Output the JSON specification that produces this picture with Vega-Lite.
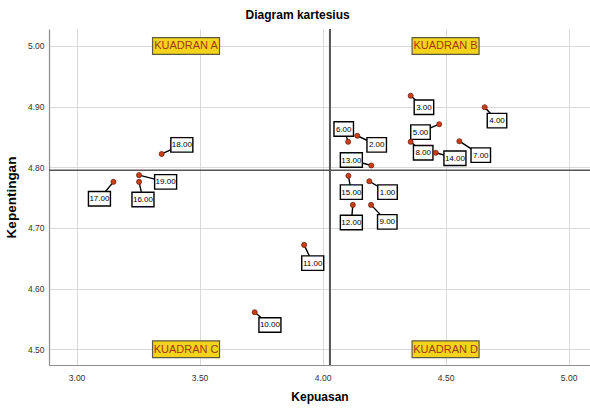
{
  "$schema": "https://vega.github.io/schema/vega-lite/v6.json",
  "width": 541,
  "height": 336,
  "autosize": {"type": "none"},
  "padding": {"left": 49, "top": 29, "right": 0, "bottom": 43},
  "background": "white",
  "title": {
    "text": "Diagram kartesius",
    "font": "Liberation Sans, Arial",
    "fontSize": 12,
    "fontWeight": "bold",
    "color": "#000000",
    "anchor": "middle",
    "frame": "bounds",
    "offset": 6
  },
  "config": {
    "view": {"stroke": null},
    "axis": {
      "labelFont": "Liberation Sans, Arial",
      "labelFontSize": 8.5,
      "labelColor": "#333333",
      "titleFont": "Liberation Sans, Arial",
      "titleFontSize": 12,
      "titleFontWeight": "bold",
      "titleColor": "#000000",
      "gridColor": "#d9d9d9",
      "gridWidth": 1,
      "domainColor": "#8c8c8c",
      "domainWidth": 1.2,
      "ticks": false
    }
  },
  "datasets": {
    "pts": [
      {"id": 1, "kepuasan": 4.190, "kepentingan": 4.777, "labelX": 4.264, "labelY": 4.759},
      {"id": 2, "kepuasan": 4.141, "kepentingan": 4.852, "labelX": 4.220, "labelY": 4.837},
      {"id": 3, "kepuasan": 4.358, "kepentingan": 4.918, "labelX": 4.412, "labelY": 4.899},
      {"id": 4, "kepuasan": 4.659, "kepentingan": 4.899, "labelX": 4.709, "labelY": 4.877},
      {"id": 5, "kepuasan": 4.474, "kepentingan": 4.871, "labelX": 4.398, "labelY": 4.858},
      {"id": 6, "kepuasan": 4.104, "kepentingan": 4.842, "labelX": 4.086, "labelY": 4.863},
      {"id": 7, "kepuasan": 4.556, "kepentingan": 4.843, "labelX": 4.643, "labelY": 4.820},
      {"id": 8, "kepuasan": 4.358, "kepentingan": 4.842, "labelX": 4.409, "labelY": 4.824},
      {"id": 9, "kepuasan": 4.197, "kepentingan": 4.738, "labelX": 4.263, "labelY": 4.710},
      {"id": 10, "kepuasan": 3.724, "kepentingan": 4.561, "labelX": 3.786, "labelY": 4.540},
      {"id": 11, "kepuasan": 3.925, "kepentingan": 4.672, "labelX": 3.960, "labelY": 4.642},
      {"id": 12, "kepuasan": 4.123, "kepentingan": 4.738, "labelX": 4.117, "labelY": 4.709},
      {"id": 13, "kepuasan": 4.198, "kepentingan": 4.803, "labelX": 4.117, "labelY": 4.812},
      {"id": 14, "kepuasan": 4.460, "kepentingan": 4.824, "labelX": 4.538, "labelY": 4.815},
      {"id": 15, "kepuasan": 4.105, "kepentingan": 4.786, "labelX": 4.117, "labelY": 4.759},
      {"id": 16, "kepuasan": 3.254, "kepentingan": 4.776, "labelX": 3.270, "labelY": 4.747},
      {"id": 17, "kepuasan": 3.150, "kepentingan": 4.776, "labelX": 3.093, "labelY": 4.748},
      {"id": 18, "kepuasan": 3.346, "kepentingan": 4.822, "labelX": 3.428, "labelY": 4.837},
      {"id": 19, "kepuasan": 3.254, "kepentingan": 4.787, "labelX": 3.362, "labelY": 4.776}
    ],
    "quads": [
      {"label": "KUADRAN A", "kepuasan": 3.445, "kepentingan": 5.0},
      {"label": "KUADRAN B", "kepuasan": 4.5, "kepentingan": 5.0},
      {"label": "KUADRAN C", "kepuasan": 3.445, "kepentingan": 4.5},
      {"label": "KUADRAN D", "kepuasan": 4.5, "kepentingan": 4.5}
    ],
    "means": [
      {"meanKepuasan": 4.03, "meanKepentingan": 4.795}
    ]
  },
  "encoding": {
    "x": {
      "field": "kepuasan",
      "type": "quantitative",
      "scale": {"domain": [2.888, 5.087], "nice": false, "zero": false},
      "axis": {"values": [3, 3.5, 4, 4.5, 5], "format": ".2f", "title": "Kepuasan", "labelPadding": 8, "titlePadding": 10}
    },
    "y": {
      "field": "kepentingan",
      "type": "quantitative",
      "scale": {"domain": [4.474, 5.028], "nice": false, "zero": false},
      "axis": {"values": [4.5, 4.6, 4.7, 4.8, 4.9, 5.0], "format": ".2f", "title": "Kepentingan", "titleFontSize": 13.5, "labelPadding": 5, "titlePadding": 9}
    }
  },
  "layer": [
    {
      "data": {"name": "means"},
      "mark": {"type": "rule", "color": "#555555", "strokeWidth": 2},
      "encoding": {"x": {"field": "meanKepuasan", "type": "quantitative"}, "y": null}
    },
    {
      "data": {"name": "means"},
      "mark": {"type": "rule", "color": "#555555", "strokeWidth": 1.6},
      "encoding": {"y": {"field": "meanKepentingan", "type": "quantitative"}, "x": null}
    },
    {
      "data": {"name": "quads"},
      "mark": {"type": "point", "filled": true, "fill": "#f3d31c", "stroke": "#5b5b40", "strokeWidth": 1.2, "opacity": 1, "size": 4, "shape": "M-33.5,-8.4H33.5V8.4H-33.5Z"}
    },
    {
      "data": {"name": "quads"},
      "mark": {"type": "text", "font": "Liberation Sans, Arial", "fontSize": 11, "color": "#a33a10", "align": "center", "baseline": "middle", "dy": 0.5},
      "encoding": {"text": {"field": "label"}}
    },
    {
      "data": {"name": "pts"},
      "mark": {"type": "rule", "color": "#000000", "strokeWidth": 1.4},
      "encoding": {
        "x2": {"field": "labelX"},
        "y2": {"field": "labelY"}
      }
    },
    {
      "data": {"name": "pts"},
      "mark": {"type": "point", "filled": true, "fill": "#ffffff", "stroke": "#000000", "strokeWidth": 1.4, "opacity": 1, "size": 4},
      "encoding": {
        "x": {"field": "labelX", "type": "quantitative"},
        "y": {"field": "labelY", "type": "quantitative"},
        "shape": {"condition": {"test": "datum.id >= 10", "value": "M-11,-7.25H11V7.25H-11Z"}, "value": "M-9.75,-7.25H9.75V7.25H-9.75Z"}
      }
    },
    {
      "data": {"name": "pts"},
      "mark": {"type": "text", "font": "Liberation Sans, Arial", "fontSize": 8, "color": "#000000", "align": "center", "baseline": "middle", "dy": 0.5},
      "encoding": {
        "x": {"field": "labelX", "type": "quantitative"},
        "y": {"field": "labelY", "type": "quantitative"},
        "text": {"field": "id", "type": "quantitative", "format": ".2f"}
      }
    },
    {
      "data": {"name": "pts"},
      "mark": {"type": "circle", "fill": "#c8401a", "stroke": "#6a1a08", "strokeWidth": 0.7, "opacity": 1, "size": 26}
    }
  ]
}
